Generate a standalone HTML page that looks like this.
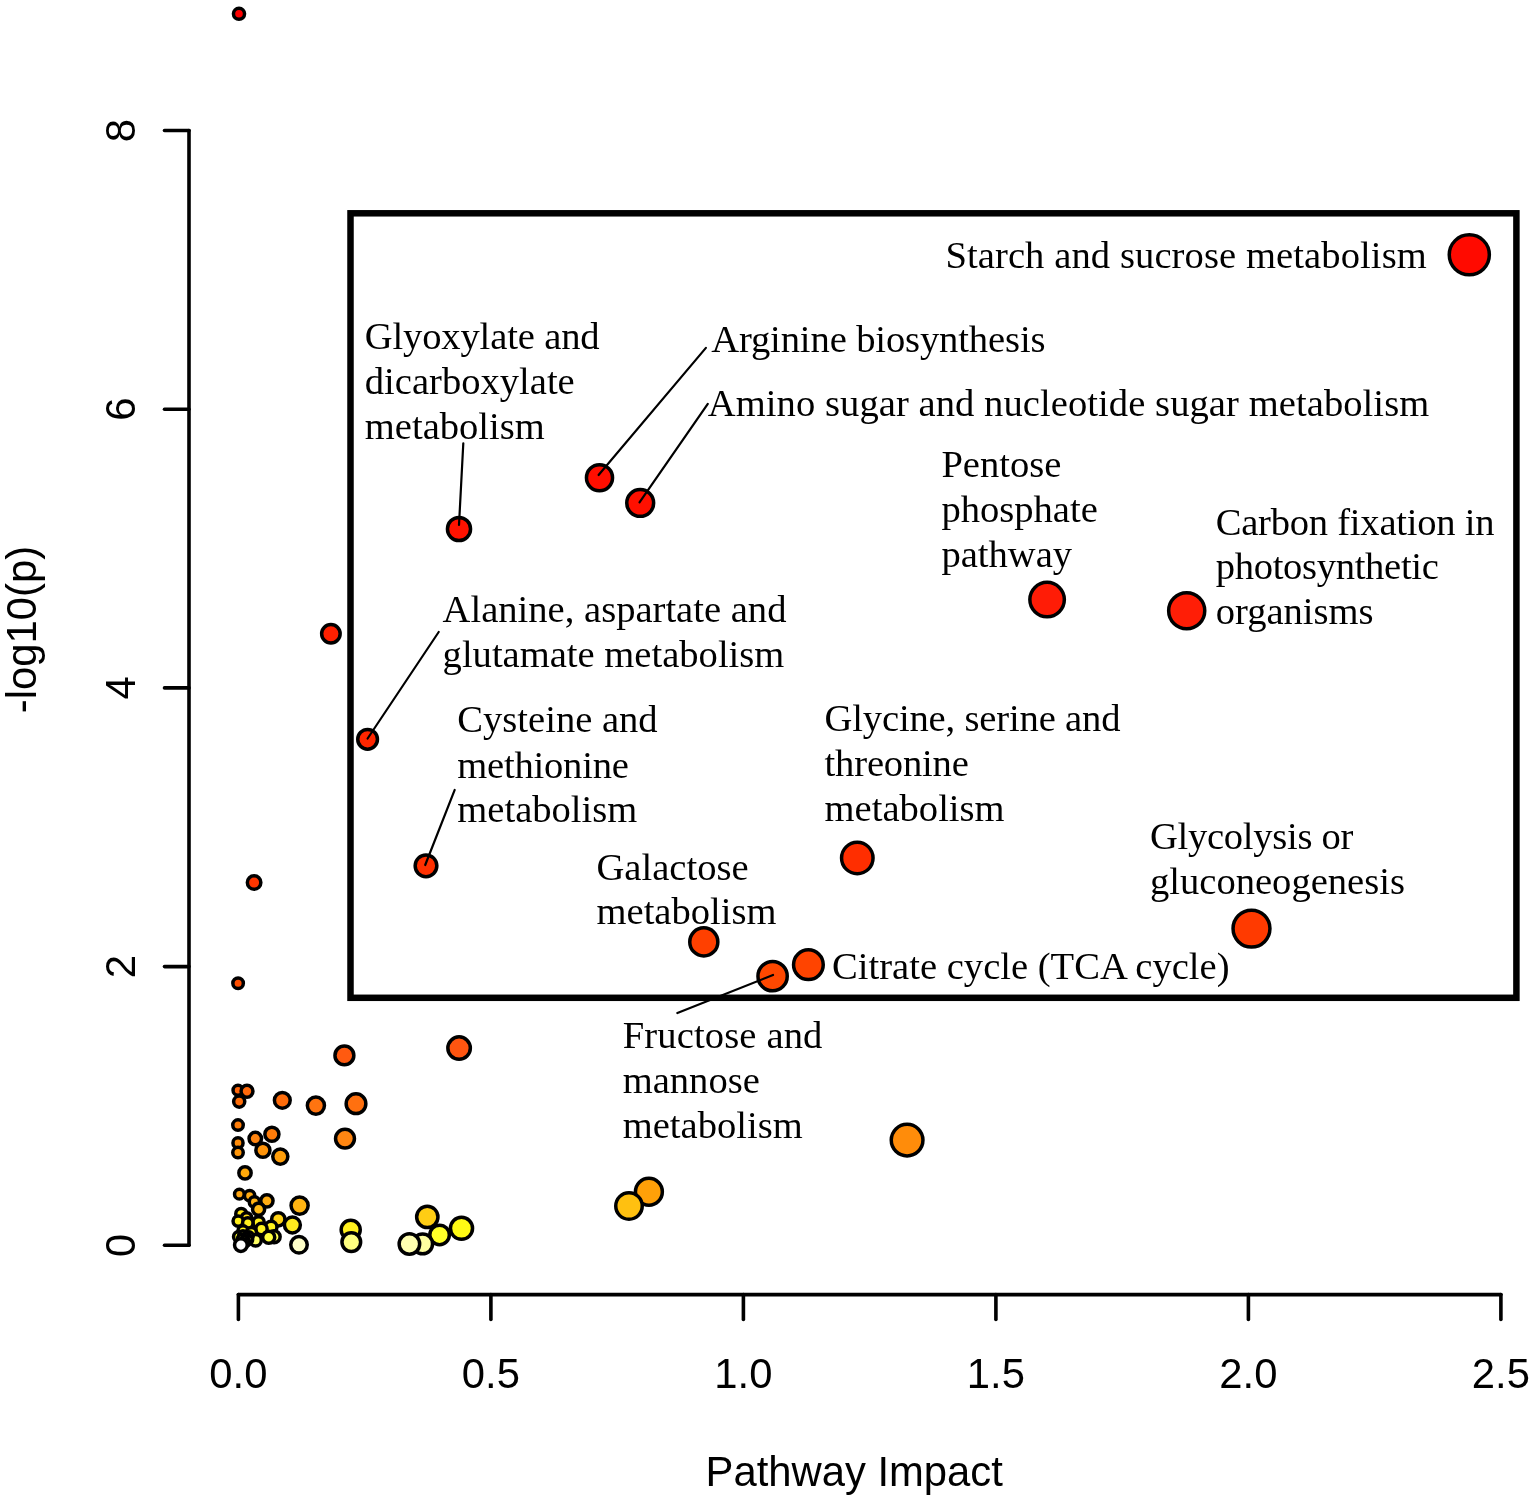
<!DOCTYPE html>
<html lang="en"><head><meta charset="utf-8"><title>Pathway Impact</title>
<style>html,body{margin:0;padding:0;background:#fff}svg{display:block}.s{font-family:"Liberation Serif","Times New Roman",serif;font-size:38.6px;fill:#000}.a{font-family:"Liberation Sans",Arial,sans-serif;font-size:41.8px;fill:#000}</style></head><body>
<svg width="1535" height="1502" viewBox="0 0 1535 1502">
<rect width="1535" height="1502" fill="#fff"/>
<g stroke="#000" stroke-width="3.6" stroke-linecap="round" fill="none">
<path d="M238.4 1294.6H1500.9"/>
<path d="M238.4 1294.6V1319.5"/>
<path d="M490.9 1294.6V1319.5"/>
<path d="M743.4 1294.6V1319.5"/>
<path d="M995.9 1294.6V1319.5"/>
<path d="M1248.4 1294.6V1319.5"/>
<path d="M1500.9 1294.6V1319.5"/>
<path d="M189 130.5V1245.3"/>
<path d="M189 1245.3H164.5"/>
<path d="M189 966.6H164.5"/>
<path d="M189 687.9H164.5"/>
<path d="M189 409.2H164.5"/>
<path d="M189 130.5H164.5"/>
</g>
<text class="a" x="238.4" y="1388.3" text-anchor="middle">0.0</text>
<text class="a" x="490.9" y="1388.3" text-anchor="middle">0.5</text>
<text class="a" x="743.4" y="1388.3" text-anchor="middle">1.0</text>
<text class="a" x="995.9" y="1388.3" text-anchor="middle">1.5</text>
<text class="a" x="1248.4" y="1388.3" text-anchor="middle">2.0</text>
<text class="a" x="1500.9" y="1388.3" text-anchor="middle">2.5</text>
<text class="a" transform="translate(135.3 1245.3) rotate(-90)" text-anchor="middle">0</text>
<text class="a" transform="translate(135.3 966.6) rotate(-90)" text-anchor="middle">2</text>
<text class="a" transform="translate(135.3 687.9) rotate(-90)" text-anchor="middle">4</text>
<text class="a" transform="translate(135.3 409.2) rotate(-90)" text-anchor="middle">6</text>
<text class="a" transform="translate(135.3 130.5) rotate(-90)" text-anchor="middle">8</text>
<text class="a" x="854.2" y="1486.4" text-anchor="middle">Pathway Impact</text>
<text class="a" transform="translate(35.6 629.5) rotate(-90)" text-anchor="middle">-log10(p)</text>
<g stroke="#000" stroke-width="3.5">
<circle cx="239.0" cy="13.8" r="5.55" fill="#FF0000"/>
<circle cx="1469.3" cy="254.8" r="20.05" fill="#FF0A00"/>
<circle cx="599.5" cy="477.7" r="13.05" fill="#FF0E00"/>
<circle cx="640.2" cy="502.9" r="13.45" fill="#FF1000"/>
<circle cx="459.0" cy="529.0" r="11.55" fill="#FF1200"/>
<circle cx="1047.1" cy="599.6" r="17.25" fill="#FF1C06"/>
<circle cx="1186.7" cy="610.8" r="18.05" fill="#FF1E06"/>
<circle cx="330.9" cy="633.7" r="9.25" fill="#FF2000"/>
<circle cx="367.6" cy="739.3" r="9.85" fill="#FF2600"/>
<circle cx="857.3" cy="858.0" r="15.75" fill="#FF2E00"/>
<circle cx="426.0" cy="865.8" r="10.85" fill="#FF3000"/>
<circle cx="254.1" cy="882.6" r="6.75" fill="#FF3600"/>
<circle cx="1251.5" cy="928.6" r="18.45" fill="#FF3A00"/>
<circle cx="703.8" cy="941.9" r="14.05" fill="#FF4000"/>
<circle cx="808.4" cy="964.7" r="14.85" fill="#FF4400"/>
<circle cx="772.6" cy="976.2" r="14.65" fill="#FF4800"/>
<circle cx="238.1" cy="983.3" r="5.25" fill="#FF4E00"/>
<circle cx="459.1" cy="1048.1" r="11.25" fill="#FF5510"/>
<circle cx="344.4" cy="1055.4" r="9.45" fill="#FF5A10"/>
<circle cx="238.0" cy="1090.3" r="4.95" fill="#FF660A"/>
<circle cx="247.0" cy="1091.2" r="5.95" fill="#FF680A"/>
<circle cx="282.3" cy="1100.3" r="7.90" fill="#FF6C0A"/>
<circle cx="239.2" cy="1101.6" r="5.55" fill="#FF6E0A"/>
<circle cx="356.0" cy="1103.7" r="9.85" fill="#FF700F"/>
<circle cx="315.9" cy="1105.6" r="8.55" fill="#FF7410"/>
<circle cx="238.0" cy="1125.1" r="5.25" fill="#FF7E0A"/>
<circle cx="271.9" cy="1134.3" r="7.05" fill="#FF7C0A"/>
<circle cx="255.3" cy="1138.6" r="6.25" fill="#FF8410"/>
<circle cx="345.0" cy="1138.6" r="9.45" fill="#FF8612"/>
<circle cx="907.1" cy="1140.1" r="15.85" fill="#FF8C0A"/>
<circle cx="238.0" cy="1142.9" r="5.05" fill="#FF8C0A"/>
<circle cx="262.9" cy="1150.2" r="7.05" fill="#FF940A"/>
<circle cx="238.0" cy="1152.6" r="5.25" fill="#FF960A"/>
<circle cx="280.3" cy="1156.6" r="7.55" fill="#FF9E0A"/>
<circle cx="245.0" cy="1172.9" r="6.15" fill="#FFA80A"/>
<circle cx="648.9" cy="1191.7" r="13.45" fill="#FFA008"/>
<circle cx="239.4" cy="1194.2" r="4.85" fill="#FFA612"/>
<circle cx="249.6" cy="1195.7" r="5.15" fill="#FFAA12"/>
<circle cx="266.9" cy="1200.8" r="6.15" fill="#FFAC12"/>
<circle cx="254.4" cy="1202.0" r="5.15" fill="#FFB212"/>
<circle cx="299.6" cy="1205.6" r="8.55" fill="#FFB412"/>
<circle cx="629.0" cy="1206.0" r="13.25" fill="#FFC010"/>
<circle cx="258.6" cy="1209.2" r="6.05" fill="#FFBA14"/>
<circle cx="241.2" cy="1213.9" r="5.45" fill="#FFE614"/>
<circle cx="427.3" cy="1216.9" r="10.65" fill="#FFCD14"/>
<circle cx="246.6" cy="1218.0" r="5.25" fill="#FFDC14"/>
<circle cx="278.3" cy="1219.3" r="6.65" fill="#FFD214"/>
<circle cx="238.2" cy="1221.1" r="5.15" fill="#FFEE1A"/>
<circle cx="258.6" cy="1222.3" r="5.65" fill="#FFF01A"/>
<circle cx="247.8" cy="1222.9" r="5.25" fill="#FFF01E"/>
<circle cx="292.4" cy="1225.0" r="7.95" fill="#FFEB1E"/>
<circle cx="271.1" cy="1227.0" r="5.85" fill="#FFF21E"/>
<circle cx="461.5" cy="1228.3" r="11.05" fill="#FFFA14"/>
<circle cx="261.5" cy="1229.0" r="5.65" fill="#FFF41E"/>
<circle cx="350.7" cy="1229.8" r="9.55" fill="#FFF01E"/>
<circle cx="243.0" cy="1230.7" r="5.05" fill="#FFF51E"/>
<circle cx="251.4" cy="1232.5" r="5.05" fill="#FFF824"/>
<circle cx="439.6" cy="1234.9" r="9.75" fill="#FFFF28"/>
<circle cx="238.8" cy="1236.7" r="5.25" fill="#FFFF30"/>
<circle cx="274.1" cy="1236.7" r="6.05" fill="#FFFF50"/>
<circle cx="268.7" cy="1237.3" r="6.05" fill="#FFFF3C"/>
<circle cx="244.8" cy="1236.5" r="3.75" fill="#FFFF40"/>
<circle cx="247.5" cy="1239.5" r="3.75" fill="#FFFF50"/>
<circle cx="255.6" cy="1240.3" r="5.75" fill="#FFFF64"/>
<circle cx="242.5" cy="1240.5" r="3.75" fill="#FFFF60"/>
<circle cx="243.0" cy="1234.9" r="4.25" fill="#FFFF50"/>
<circle cx="249.0" cy="1236.1" r="4.25" fill="#FFFF50"/>
<circle cx="246.0" cy="1237.3" r="4.25" fill="#FFFF50"/>
<circle cx="241.8" cy="1238.5" r="4.25" fill="#FFFF60"/>
<circle cx="248.4" cy="1239.7" r="4.25" fill="#FFFF60"/>
<circle cx="244.8" cy="1240.3" r="4.25" fill="#FFFF60"/>
<circle cx="351.3" cy="1242.1" r="9.35" fill="#FFFF80"/>
<circle cx="246.0" cy="1242.5" r="3.75" fill="#FFFF70"/>
<circle cx="422.6" cy="1243.9" r="9.95" fill="#FFFFA0"/>
<circle cx="409.4" cy="1243.9" r="10.25" fill="#FFFFB0"/>
<circle cx="299.0" cy="1244.8" r="8.25" fill="#FFFFC8"/>
<circle cx="240.9" cy="1245.1" r="6.35" fill="#FFFFFF"/>
</g>
<rect x="350.5" y="213.3" width="1165.9" height="784.5" fill="none" stroke="#000" stroke-width="6.5"/>
<g stroke="#000" stroke-width="2.2" stroke-linecap="round">
<path d="M463.3 443.3L459.0 525.0"/>
<path d="M705.9 347.9L598.6 475.0"/>
<path d="M707.8 403.9L639.5 502.4"/>
<path d="M438.7 632.0L367.6 738.5"/>
<path d="M454.7 789.9L425.2 865.0"/>
<path d="M677.4 1013.0L773.0 975.0"/>
</g>
<text class="s" x="945.4" y="267.9" style="letter-spacing:0.089px">Starch and sucrose metabolism</text>
<text class="s" x="364.8" y="348.7" style="letter-spacing:-0.154px">Glyoxylate and</text>
<text class="s" x="364.8" y="394.0">dicarboxylate</text>
<text class="s" x="364.8" y="439.2">metabolism</text>
<text class="s" x="711.2" y="351.8" style="letter-spacing:-0.125px">Arginine biosynthesis</text>
<text class="s" x="707.8" y="415.9" style="letter-spacing:0.060px">Amino sugar and nucleotide sugar metabolism</text>
<text class="s" x="941.4" y="476.5">Pentose</text>
<text class="s" x="941.4" y="521.7">phosphate</text>
<text class="s" x="941.4" y="567.0">pathway</text>
<text class="s" x="1215.7" y="534.5" style="letter-spacing:-0.235px">Carbon fixation in</text>
<text class="s" x="1215.7" y="579.3" style="letter-spacing:-0.308px">photosynthetic</text>
<text class="s" x="1215.7" y="623.7">organisms</text>
<text class="s" x="442.6" y="622.2">Alanine, aspartate and</text>
<text class="s" x="442.6" y="667.0">glutamate metabolism</text>
<text class="s" x="457.3" y="732.4">Cysteine and</text>
<text class="s" x="457.3" y="777.6" style="letter-spacing:-0.222px">methionine</text>
<text class="s" x="457.3" y="822.4">metabolism</text>
<text class="s" x="824.6" y="731.1" style="letter-spacing:-0.167px">Glycine, serine and</text>
<text class="s" x="824.6" y="775.8" style="letter-spacing:-0.188px">threonine</text>
<text class="s" x="824.6" y="820.6">metabolism</text>
<text class="s" x="1150.0" y="849.4" style="letter-spacing:-0.292px">Glycolysis or</text>
<text class="s" x="1150.0" y="893.7">gluconeogenesis</text>
<text class="s" x="596.5" y="879.6">Galactose</text>
<text class="s" x="596.5" y="924.4">metabolism</text>
<text class="s" x="832.1" y="978.6">Citrate cycle (TCA cycle)</text>
<text class="s" x="622.7" y="1047.7" style="letter-spacing:0.136px">Fructose and</text>
<text class="s" x="622.7" y="1092.9">mannose</text>
<text class="s" x="622.7" y="1137.7">metabolism</text>
</svg></body></html>
